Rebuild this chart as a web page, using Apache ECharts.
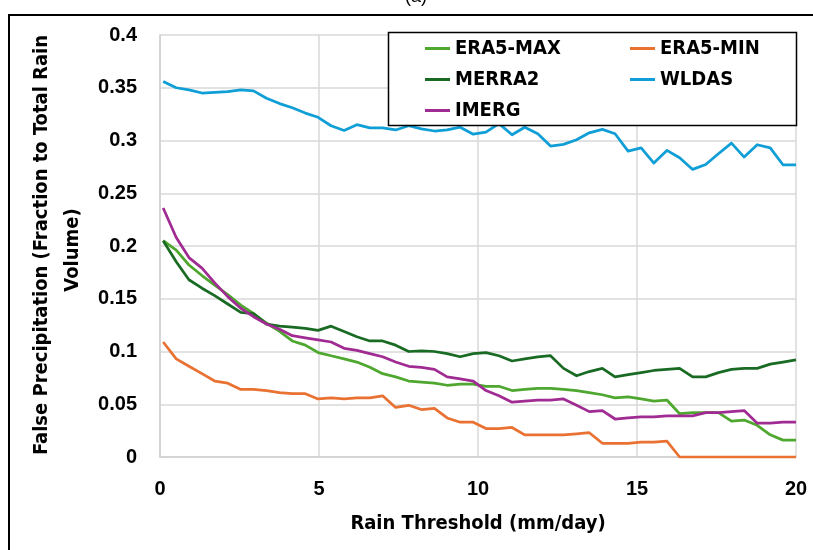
<!DOCTYPE html>
<html>
<head>
<meta charset="utf-8">
<script src="https://cdn.jsdelivr.net/npm/echarts@6/dist/echarts.min.js"></script>
<style>
  html, body { margin: 0; padding: 0; background: #ffffff; }
  #chart { width: 813px; height: 550px; }
</style>
</head>
<body>
<div id="chart"></div>
<script>
// Rain thresholds (mm/day) at which the false-precipitation fraction was evaluated
const thresholds = [0.10, 0.51, 0.91, 1.32, 1.72, 2.13, 2.54, 2.94, 3.35, 3.76,
  4.16, 4.57, 4.97, 5.38, 5.79, 6.19, 6.60, 7.00, 7.41, 7.82,
  8.22, 8.63, 9.03, 9.44, 9.85, 10.25, 10.66, 11.07, 11.47, 11.88,
  12.28, 12.69, 13.10, 13.50, 13.91, 14.31, 14.72, 15.13, 15.53, 15.94,
  16.34, 16.75, 17.16, 17.56, 17.97, 18.37, 18.78, 19.19, 19.59, 20.00];

const era5Max = [0.205, 0.196, 0.182, 0.172, 0.163, 0.154, 0.144, 0.136, 0.127, 0.119,
  0.110, 0.106, 0.099, 0.096, 0.093, 0.090, 0.085, 0.079, 0.076, 0.072,
  0.071, 0.070, 0.068, 0.069, 0.069, 0.067, 0.067, 0.063, 0.064, 0.065,
  0.065, 0.064, 0.063, 0.061, 0.059, 0.056, 0.057, 0.055, 0.053, 0.054,
  0.041, 0.042, 0.042, 0.042, 0.034, 0.035, 0.030, 0.021, 0.016, 0.016];

const era5Min = [0.109, 0.093, 0.086, 0.079, 0.072, 0.070, 0.064, 0.064, 0.063, 0.061,
  0.060, 0.060, 0.055, 0.056, 0.055, 0.056, 0.056, 0.058, 0.047, 0.049,
  0.045, 0.046, 0.037, 0.033, 0.033, 0.027, 0.027, 0.028, 0.021, 0.021,
  0.021, 0.021, 0.022, 0.023, 0.013, 0.013, 0.013, 0.014, 0.014, 0.015,
  0, 0, 0, 0, 0, 0, 0, 0, 0, 0];

const merra2 = [0.205, 0.185, 0.168, 0.160, 0.153, 0.145, 0.137, 0.136, 0.126, 0.124,
  0.123, 0.122, 0.120, 0.124, 0.119, 0.114, 0.110, 0.110, 0.106, 0.100,
  0.1005, 0.100, 0.098, 0.095, 0.098, 0.099, 0.096, 0.091, 0.093, 0.095,
  0.096, 0.084, 0.077, 0.081, 0.084, 0.076, 0.078, 0.080, 0.082, 0.083,
  0.084, 0.076, 0.076, 0.080, 0.083, 0.084, 0.084, 0.088, 0.090, 0.092];

const wldas = [0.356, 0.350, 0.348, 0.345, 0.3457, 0.3464, 0.348, 0.347, 0.340, 0.335,
  0.331, 0.326, 0.322, 0.314, 0.3095, 0.315, 0.312, 0.312, 0.310, 0.314,
  0.311, 0.309, 0.310, 0.3126, 0.306, 0.308, 0.316, 0.3054, 0.3126, 0.3064,
  0.2947, 0.2963, 0.3007, 0.3073, 0.3105, 0.3064, 0.290, 0.293, 0.2786, 0.2906,
  0.2837, 0.2726, 0.2773, 0.2875, 0.2975, 0.2843, 0.296, 0.293, 0.277, 0.277];

const imerg = [0.236, 0.208, 0.189, 0.179, 0.165, 0.152, 0.141, 0.133, 0.126, 0.121,
  0.115, 0.113, 0.111, 0.109, 0.103, 0.101, 0.098, 0.095, 0.090, 0.086,
  0.085, 0.083, 0.076, 0.074, 0.072, 0.063, 0.058, 0.052, 0.053, 0.054,
  0.054, 0.055, 0.049, 0.043, 0.044, 0.036, 0.037, 0.038, 0.038, 0.039,
  0.039, 0.039, 0.042, 0.042, 0.043, 0.044, 0.032, 0.032, 0.033, 0.033];

const seriesNames = ['ERA5-MAX', 'ERA5-MIN', 'MERRA2', 'WLDAS', 'IMERG'];
const seriesColors = ['#4EA72E', '#E97132', '#196B24', '#0F9ED5', '#A02B93'];
const seriesValues = [era5Max, era5Min, merra2, wldas, imerg];

const condFont = '"DejaVu Sans Condensed", "DejaVu Sans", sans-serif';
const tickFont = '"Liberation Sans", Arial, sans-serif';

const chart = echarts.init(document.getElementById('chart'), null, { renderer: 'canvas' });

const legendText = {
  fontFamily: condFont, fontWeight: 'bold', fontSize: 20, color: '#000', lineHeight: 31
};

chart.setOption({
  animation: false,
  backgroundColor: '#ffffff',
  grid: { left: 160, right: 17, top: 35, bottom: 93, containLabel: false },
  xAxis: {
    type: 'value', min: 0, max: 20, interval: 5,
    name: 'Rain Threshold (mm/day)',
    nameLocation: 'middle', nameGap: 57,
    nameTextStyle: { fontFamily: condFont, fontWeight: 'bold', fontSize: 20, color: '#000' },
    axisLine: { show: true, lineStyle: { color: '#d0d0d0', width: 1.5 } },
    axisTick: { show: false },
    axisLabel: { margin: 22, fontFamily: tickFont, fontWeight: 'bold', fontSize: 20, color: '#000' },
    splitLine: { show: true, lineStyle: { color: '#d9d9d9', width: 1.5 } }
  },
  yAxis: {
    type: 'value', min: 0, max: 0.4, interval: 0.05,
    axisLine: { show: true, lineStyle: { color: '#d0d0d0', width: 1.5 } },
    axisTick: { show: false },
    axisLabel: { margin: 23, fontFamily: tickFont, fontWeight: 'bold', fontSize: 20, color: '#000' },
    splitLine: { show: true, lineStyle: { color: '#d9d9d9', width: 1.5 } }
  },
  legend: [
    {
      data: ['ERA5-MAX', 'MERRA2', 'IMERG'],
      orient: 'vertical', left: 425, top: 33, padding: 0,
      itemWidth: 25, itemHeight: 3, itemGap: 0, icon: 'rect',
      textStyle: legendText, z: 10
    },
    {
      data: ['ERA5-MIN', 'WLDAS'],
      orient: 'vertical', left: 630, top: 33, padding: 0,
      itemWidth: 25, itemHeight: 3, itemGap: 0, icon: 'rect',
      textStyle: legendText, z: 10
    }
  ],
  graphic: [
    {
      type: 'rect', z: 5,
      shape: { x: 388.5, y: 32.5, width: 408, height: 93 },
      style: { fill: '#ffffff', stroke: '#000000', lineWidth: 1.5 }
    },
    {
      type: 'rect', z: 20,
      shape: { x: 9, y: 15, width: 820, height: 560 },
      style: { fill: null, stroke: '#000000', lineWidth: 2 }
    },
    {
      type: 'text', z: 20, left: 405, top: -12,
      style: { text: '(a)', fontFamily: tickFont, fontSize: 18, fill: '#000' }
    },
    {
      type: 'text', z: 20, x: 42, y: 245, rotation: Math.PI / 2,
      style: {
        text: 'False Precipitation (Fraction to Total Rain',
        fontFamily: condFont, fontWeight: 'bold', fontSize: 20, fill: '#000',
        align: 'center', verticalAlign: 'middle'
      }
    },
    {
      type: 'text', z: 20, x: 73, y: 250, rotation: Math.PI / 2,
      style: {
        text: 'Volume)',
        fontFamily: condFont, fontWeight: 'bold', fontSize: 20, fill: '#000',
        align: 'center', verticalAlign: 'middle'
      }
    }
  ],
  series: seriesNames.map((name, i) => ({
    name: name,
    type: 'line',
    data: thresholds.map((t, j) => [t, seriesValues[i][j]]),
    showSymbol: false,
    symbol: 'none',
    color: seriesColors[i],
    lineStyle: { width: 2.75, color: seriesColors[i], join: 'round' },
    z: 2
  }))
});
</script>
</body>
</html>
